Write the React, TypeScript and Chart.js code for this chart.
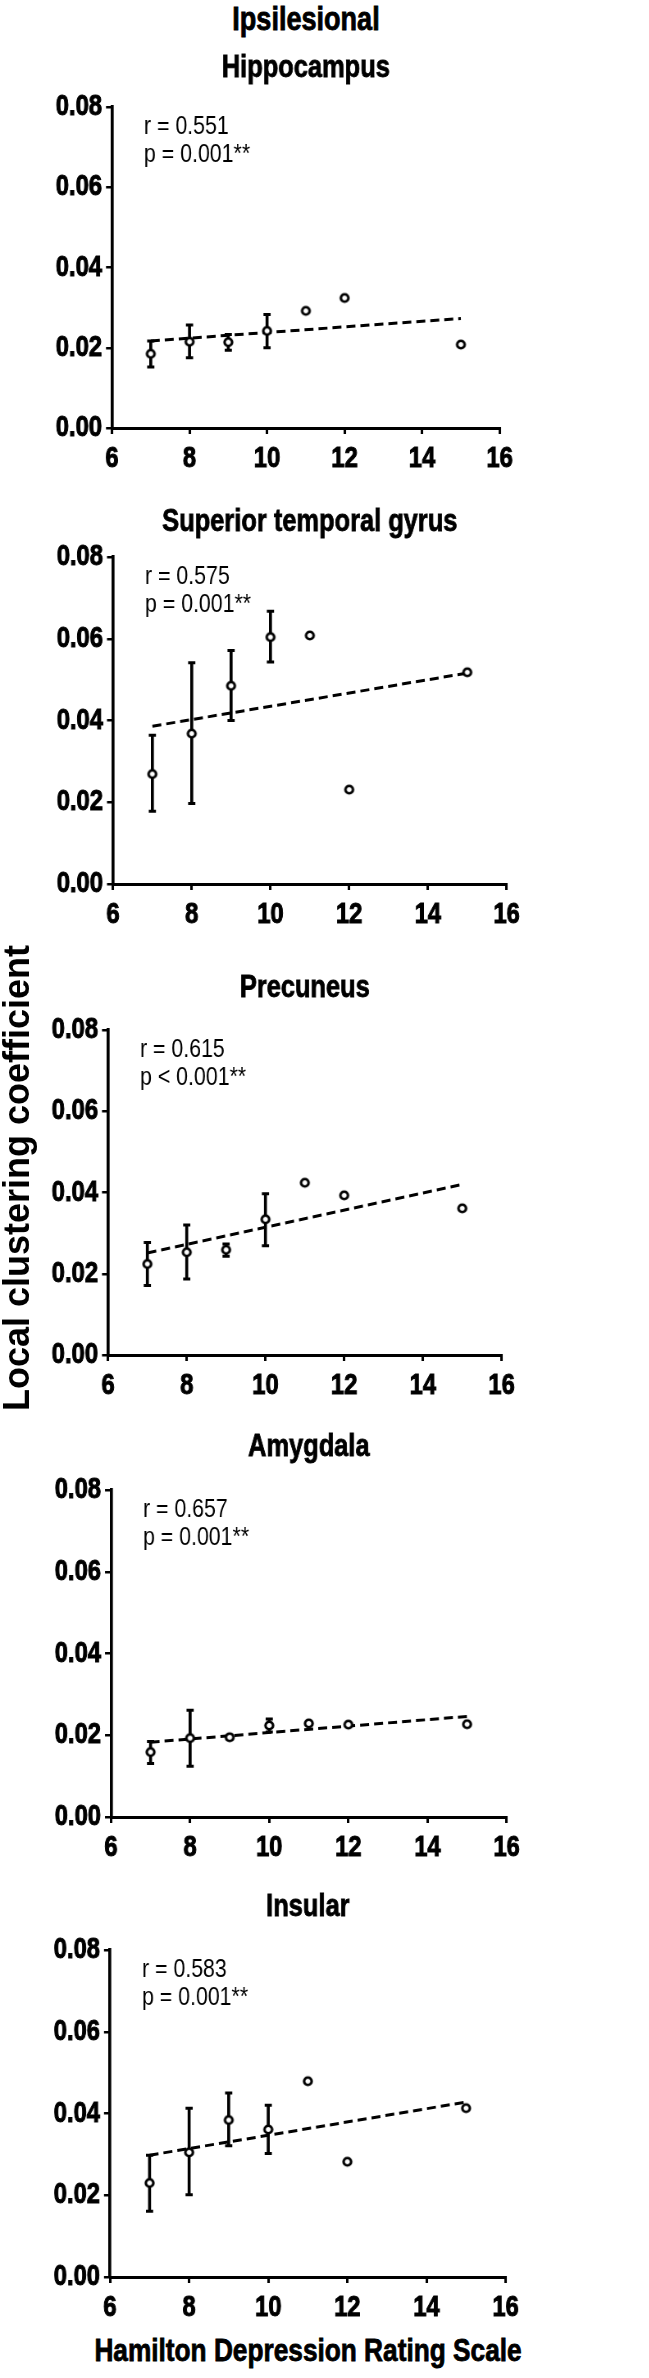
import React, { useEffect, useRef } from "react";
import { Chart, registerables } from "chart.js";

Chart.register(...registerables);

// ---------- data ----------
const hamdScores = [7, 8, 9, 10, 11, 12, 15];
const errorBarScores = [7, 8, 9, 10];
const trendScores = [7, 15];
const xTickValues = [6, 8, 10, 12, 14, 16];
const yTickValues = [0, 0.02, 0.04, 0.06, 0.08];

const regionTitles = ["Hippocampus", "Superior temporal gyrus", "Precuneus", "Amygdala", "Insular"];
const rTexts = ["r = 0.551", "r = 0.575", "r = 0.615", "r = 0.657", "r = 0.583"];
const pTexts = ["p = 0.001**", "p = 0.001**", "p < 0.001**", "p = 0.001**", "p = 0.001**"];

const hippocampusMean = [0.0185, 0.0215, 0.0214, 0.0242, 0.0292, 0.0324, 0.0208];
const hippocampusUpper = [0.0217, 0.0257, 0.0233, 0.0283];
const hippocampusLower = [0.0152, 0.0175, 0.0194, 0.02];
const hippocampusTrend = [0.0217, 0.0273];

const stgMean = [0.0269, 0.0368, 0.0485, 0.0604, 0.0608, 0.0231, 0.0518];
const stgUpper = [0.0364, 0.0541, 0.0571, 0.0667];
const stgLower = [0.0178, 0.0197, 0.04, 0.0543];
const stgTrend = [0.0386, 0.0516];

const precuneusMean = [0.0224, 0.0253, 0.0259, 0.0334, 0.0424, 0.0393, 0.0361];
const precuneusUpper = [0.0277, 0.032, 0.0273, 0.0397];
const precuneusLower = [0.0171, 0.0187, 0.0243, 0.0269];
const precuneusTrend = [0.0251, 0.042];

const amygdalaMean = [0.0159, 0.0193, 0.0195, 0.0224, 0.0229, 0.0226, 0.0227];
const amygdalaUpper = [0.0185, 0.0261, 0.02, 0.024];
const amygdalaLower = [0.0131, 0.0124, 0.019, 0.0208];
const amygdalaTrend = [0.0183, 0.0246];

const insularMean = [0.023, 0.0305, 0.0384, 0.0361, 0.0479, 0.0282, 0.0413];
const insularUpper = [0.0298, 0.0413, 0.045, 0.042];
const insularLower = [0.0161, 0.0201, 0.0321, 0.0302];
const insularTrend = [0.0298, 0.0428];

const panelMeans = [hippocampusMean, stgMean, precuneusMean, amygdalaMean, insularMean];
const panelUppers = [hippocampusUpper, stgUpper, precuneusUpper, amygdalaUpper, insularUpper];
const panelLowers = [hippocampusLower, stgLower, precuneusLower, amygdalaLower, insularLower];
const panelTrends = [hippocampusTrend, stgTrend, precuneusTrend, amygdalaTrend, insularTrend];

// ---------- layout ----------
const W = 649;
const SX = 0.82; // horizontal condensing of the whole figure (narrow type)
const WI = Math.round(W / SX);
const TOP_PAD = 62;
const BOTTOM_PAD = 52;
const panelBoxes = [
  { left: 112, right: 500, top: 107, bottom: 428, titleOffset: 39 },
  { left: 113, right: 507, top: 557, bottom: 884, titleOffset: 35 },
  { left: 108, right: 502, top: 1030, bottom: 1355, titleOffset: 42 },
  { left: 111, right: 507, top: 1490, bottom: 1817, titleOffset: 43 },
  { left: 110, right: 506, top: 1950, bottom: 2277, titleOffset: 43 },
];

const SANS = '"Liberation Sans", Arial, "DejaVu Sans", sans-serif';

function makeCircleImage(r: number, lw: number): HTMLCanvasElement {
  const outer = r + lw / 2;
  const c = document.createElement("canvas");
  c.width = Math.ceil((2 * outer) / SX) + 2;
  c.height = Math.ceil(2 * outer) + 2;
  const ctx = c.getContext("2d")!;
  ctx.save();
  ctx.translate(c.width / 2, c.height / 2);
  ctx.scale(1 / SX, 1);
  ctx.beginPath();
  ctx.arc(0, 0, r, 0, Math.PI * 2);
  ctx.fillStyle = "#fff";
  ctx.fill();
  ctx.lineWidth = lw;
  ctx.strokeStyle = "#000";
  ctx.stroke();
  ctx.restore();
  return c;
}

const panelTextPlugin = {
  id: "panelText",
  afterDraw(chart: any, _args: any, opts: any) {
    const { ctx, chartArea } = chart;
    ctx.save();
    ctx.fillStyle = "#000";
    ctx.strokeStyle = "#000";
    ctx.textAlign = "center";
    ctx.textBaseline = "middle";
    ctx.font = `bold 31px ${SANS}`;
    ctx.lineWidth = 0.8;
    const tx = (chartArea.left + chartArea.right) / 2;
    const ty = chartArea.top - opts.titleOffset;
    ctx.fillText(opts.title, tx, ty);
    ctx.strokeText(opts.title, tx, ty);
    ctx.textAlign = "left";
    ctx.font = `26px ${SANS}`;
    ctx.fillText(opts.r, chartArea.left + 32 / SX, chartArea.top + 20);
    ctx.fillText(opts.p, chartArea.left + 32 / SX, chartArea.top + 48);
    ctx.restore();
  },
};

function Panel({ idx }: { idx: number }) {
  const ref = useRef<HTMLCanvasElement>(null);
  const g = panelBoxes[idx];
  const h = g.bottom - g.top + TOP_PAD + BOTTOM_PAD;

  useEffect(() => {
    const canvas = ref.current;
    if (!canvas) return;
    const means = panelMeans[idx];
    const up = panelUppers[idx];
    const lo = panelLowers[idx];
    const tr = panelTrends[idx];

    const meanData = hamdScores.map((x, i) => ({ x, y: means[i] }));
    const errData: any[] = [];
    errorBarScores.forEach((x, i) => {
      errData.push({ x, y: lo[i] }, { x, y: up[i] }, { x, y: null });
    });
    const trendData = trendScores.map((x, i) => ({ x, y: tr[i] }));

    const tickFont = { family: SANS, size: 29, weight: "bold" as const };
    const circle = makeCircleImage(3.8, 2.6);

    const chart = new Chart(canvas, {
      type: "scatter",
      data: {
        datasets: [
          {
            data: meanData,
            showLine: false,
            pointStyle: circle,
            pointRadius: 4,
          },
          {
            data: errData,
            showLine: true,
            spanGaps: false,
            borderColor: "#000",
            borderWidth: 3 / SX,
            pointStyle: "line",
            pointRadius: 3.6 / SX,
            pointBorderWidth: 3,
            pointBorderColor: "#000",
          },
          {
            data: trendData,
            showLine: true,
            borderColor: "#000",
            borderWidth: 3,
            borderDash: [9 / SX, 5 / SX],
            pointRadius: 0,
          },
        ],
      },
      options: {
        animation: false,
        responsive: false,
        maintainAspectRatio: false,
        devicePixelRatio: 1,
        events: [],
        layout: { padding: { top: TOP_PAD, bottom: 0, left: 0, right: (W - g.right) / SX } },
        plugins: {
          legend: { display: false },
          tooltip: { enabled: false },
          title: { display: false },
          panelText: {
            title: regionTitles[idx],
            r: rTexts[idx],
            p: pTexts[idx],
            titleOffset: g.titleOffset,
          },
        } as any,
        scales: {
          x: {
            type: "linear",
            min: 6,
            max: 16,
            afterBuildTicks: (s: any) => {
              s.ticks = xTickValues.map((v) => ({ value: v }));
            },
            afterFit: (s: any) => {
              s.height = BOTTOM_PAD;
            },
            ticks: {
              font: tickFont,
              color: "#000",
              padding: 8,
              maxRotation: 0,
              autoSkip: false,
              textStrokeColor: "#000",
              textStrokeWidth: 1,
            },
            grid: { display: true, drawOnChartArea: false, drawTicks: true, tickLength: 6, lineWidth: 2.5 / SX, color: "#000" },
            border: { display: true, width: 3, color: "#000" },
          },
          y: {
            type: "linear",
            min: 0,
            max: 0.08,
            afterBuildTicks: (s: any) => {
              s.ticks = yTickValues.map((v) => ({ value: v }));
            },
            afterFit: (s: any) => {
              s.width = g.left / SX;
            },
            ticks: {
              font: tickFont,
              color: "#000",
              padding: 4 / SX,
              autoSkip: false,
              textStrokeColor: "#000",
              textStrokeWidth: 1,
              callback: (v: any) => Number(v).toFixed(2),
            },
            grid: { display: true, drawOnChartArea: false, drawTicks: true, tickLength: 6 / SX, lineWidth: 2.5, color: "#000" },
            border: { display: true, width: 3 / SX, color: "#000" },
          },
        },
      },
      plugins: [panelTextPlugin],
    } as any);

    return () => chart.destroy();
  }, [idx]);

  return (
    <canvas
      ref={ref}
      width={WI}
      height={h}
      style={{
        position: "absolute",
        left: 0,
        top: g.top - TOP_PAD,
        width: WI,
        height: h,
        transform: `scaleX(${SX})`,
        transformOrigin: "0 0",
      }}
    />
  );
}

export default function App() {
  return (
    <div style={{ position: "absolute", left: 0, top: 0, width: W, height: 2378, background: "#fff", overflow: "hidden" }}>
      <div
        style={{
          position: "absolute",
          left: 0,
          width: 612,
          top: 2,
          textAlign: "center",
          font: `bold 33px/33px ${SANS}`,
          color: "#000",
          whiteSpace: "nowrap",
          WebkitTextStroke: "0.8px #000",
          transform: `scaleX(${SX})`,
          transformOrigin: "306px 0",
        }}
      >
        Ipsilesional
      </div>
      {panelBoxes.map((_, i) => (
        <Panel key={i} idx={i} />
      ))}
      <div
        style={{
          position: "absolute",
          left: 17 - 300,
          top: 1178 - 18,
          width: 600,
          height: 36,
          textAlign: "center",
          font: `bold 36px/36px ${SANS}`,
          color: "#000",
          whiteSpace: "nowrap",
          transform: "rotate(-90deg)",
          transformOrigin: "50% 50%",
        }}
      >
        Local clustering coefficient
      </div>
      <div
        style={{
          position: "absolute",
          left: 0,
          width: 616,
          top: 2334,
          textAlign: "center",
          font: `bold 32px/32px ${SANS}`,
          color: "#000",
          whiteSpace: "nowrap",
          WebkitTextStroke: "0.8px #000",
          transform: `scaleX(${SX})`,
          transformOrigin: "308px 0",
        }}
      >
        Hamilton Depression Rating Scale
      </div>
    </div>
  );
}
